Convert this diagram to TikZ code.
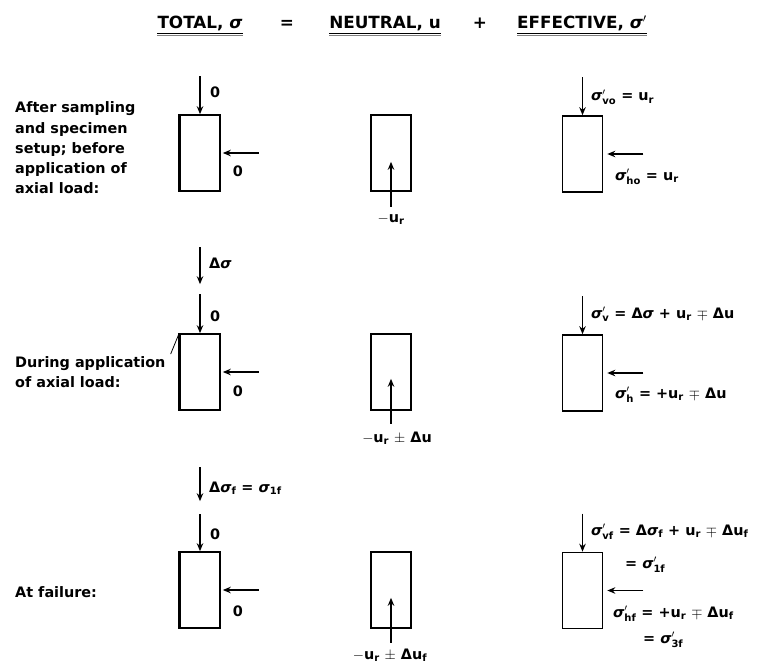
\documentclass[tikz,border=0pt]{standalone}
\usepackage{fontspec}
\setmainfont{DejaVu Sans}
\usepackage{amsmath}
\usepackage{tikz}
\usetikzlibrary{arrows.meta}
\usetikzlibrary{positioning}
\tikzset{
  specimen/.style={draw,line width=1.6pt,minimum width=40pt,minimum height=76pt,inner sep=0pt},
  load/.style={-{Stealth[length=8pt,width=6.5pt]},line width=1.6pt},
  lbl/.style={font=\bfseries\fontsize{14.4}{20.3}\selectfont,inner sep=1pt},
  hdr/.style={font=\bfseries\fontsize{16.8}{20}\selectfont,inner sep=0pt},
}
\newcommand{\sig}{\textit{σ}}
\newcommand{\sbs}[1]{$_{\text{#1}}$}
\newcommand{\psb}[1]{$'_{\text{#1}}$}

\begin{document}
\begin{tikzpicture}[x=1pt,y=-1pt]
    \useasboundingbox (0,0) rectangle (762,666);
    % heading
    \node[hdr,anchor=base] (htot) at (200,29) {TOTAL, \sig};
    \node[hdr,anchor=base] (heq) at (287,29) {=};
    \node[hdr,anchor=base] (hneu) at (385,29) {NEUTRAL, u};
    \node[hdr,anchor=base] (hplus) at (480,29) {+};
    \node[hdr,anchor=base] (heff) at (582,29) {EFFECTIVE, \sig$'$};
    \foreach \h in {htot,hneu,heff}{
      \draw[line width=1.8pt] ([yshift=-4.5pt]\h.base west) -- ([yshift=-4.5pt]\h.base east);
      \draw[line width=0.7pt,gray] ([yshift=-6.8pt]\h.base west) -- ([yshift=-6.8pt]\h.base east);
    }
    % row 1: after setup
    \node[lbl,anchor=west,align=left] (lab1) at (14,148)
      {After sampling\\and specimen\\setup; before\\application of\\axial load:};
    \node[specimen] (tot1) at (200,153) {};
    \draw[line width=2.6pt] (tot1.south west) -- (tot1.north west);
    \draw[load] ([yshift=38pt]tot1.north) -- (tot1.north);
    \node[lbl,anchor=base west] (tot1v) at (209,98) {0};
    \draw[load] ([xshift=38pt]tot1.east) -- ([xshift=2pt]tot1.east);
    \node[lbl,anchor=base] (tot1h) at (238,176) {0};
    \node[specimen] (neu1) at (391,153) {};
    \draw[load] ([yshift=-15pt]neu1.south) -- ([yshift=30pt]neu1.south);
    \node[lbl,anchor=base] (neu1l) at (391,222) {$-$u\sbs{r}};
    \node[specimen] (eff1) at (582.5,154) {};
    \draw[load] ([yshift=38pt]eff1.north) -- (eff1.north);
    \node[lbl,anchor=base west] (eff1v) at (590,101) {\sig\psb{vo} = u\sbs{r}};
    \draw[load] ([xshift=40pt]eff1.east) -- ([xshift=4pt]eff1.east);
    \node[lbl,anchor=base west] (eff1h) at (614,180) {\sig\psb{ho} = u\sbs{r}};
    % row 2: during axial loading
    \node[lbl,anchor=west,align=left] (lab2) at (14,372)
      {During application\\of axial load:};
    \node[specimen] (tot2) at (200,372) {};
    \draw[line width=2.6pt] (tot2.south west) -- (tot2.north west);
    \draw[line width=0.8pt] ([xshift=4pt,yshift=1pt]lab2.north east) -- (tot2.north west);
    \draw[load] ([yshift=86pt]tot2.north) -- ([yshift=49pt]tot2.north);
    \node[lbl,anchor=base west] (tot2d) at (208,268) {Δ\sig};
    \draw[load] ([yshift=39pt]tot2.north) -- (tot2.north);
    \node[lbl,anchor=base west] (tot2v) at (209,321) {0};
    \draw[load] ([xshift=38pt]tot2.east) -- ([xshift=2pt]tot2.east);
    \node[lbl,anchor=base] (tot2h) at (238,396) {0};
    \node[specimen] (neu2) at (391,372) {};
    \draw[load] ([yshift=-13pt]neu2.south) -- ([yshift=32pt]neu2.south);
    \node[lbl,anchor=base] (neu2l) at (397,442) {$-$u\sbs{r} $\pm$ Δu};
    \node[specimen] (eff2) at (582.5,373) {};
    \draw[load] ([yshift=38pt]eff2.north) -- (eff2.north);
    \node[lbl,anchor=base west] (eff2v) at (590,318)
      {\sig\psb{v} = Δ\sig{} + u\sbs{r} $\mp$ Δu};
    \draw[load] ([xshift=40pt]eff2.east) -- ([xshift=4pt]eff2.east);
    \node[lbl,anchor=base west] (eff2h) at (614,398) {\sig\psb{h} = +u\sbs{r} $\mp$ Δu};
    % row 3: at failure
    \node[lbl,anchor=base west] (lab3) at (14,597) {At failure:};
    \node[specimen] (tot3) at (200,590) {};
    \draw[line width=2.6pt] (tot3.south west) -- (tot3.north west);
    \draw[load] ([yshift=84pt]tot3.north) -- ([yshift=50pt]tot3.north);
    \node[lbl,anchor=base west] (tot3d) at (208,492) {Δ\sig\sbs{f} = \sig\sbs{1f}};
    \draw[load] ([yshift=37pt]tot3.north) -- (tot3.north);
    \node[lbl,anchor=base west] (tot3v) at (209,539) {0};
    \draw[load] ([xshift=38pt]tot3.east) -- ([xshift=2pt]tot3.east);
    \node[lbl,anchor=base] (tot3h) at (238,616) {0};
    \node[specimen] (neu3) at (391,590) {};
    \draw[load] ([yshift=-14pt]neu3.south) -- ([yshift=31pt]neu3.south);
    \node[lbl,anchor=base] (neu3l) at (390,659) {$-$u\sbs{r} $\pm$ Δu\sbs{f}};
    \node[specimen] (eff3) at (582.5,590.5) {};
    \draw[load] ([yshift=38pt]eff3.north) -- (eff3.north);
    \node[lbl,anchor=base west] (eff3v) at (590,535)
      {\sig\psb{vf} = Δ\sig\sbs{f} + u\sbs{r} $\mp$ Δu\sbs{f}};
    \node[lbl,anchor=base west] (eff3v2) at (624,568) {= \sig\psb{1f}};
    \draw[load] ([xshift=40pt]eff3.east) -- ([xshift=4pt]eff3.east);
    \node[lbl,anchor=base west] (eff3h) at (612,617)
      {\sig\psb{hf} = +u\sbs{r} $\mp$ Δu\sbs{f}};
    \node[lbl,anchor=base west] (eff3h2) at (642,643) {= \sig\psb{3f}};
  \end{tikzpicture}
\end{document}
